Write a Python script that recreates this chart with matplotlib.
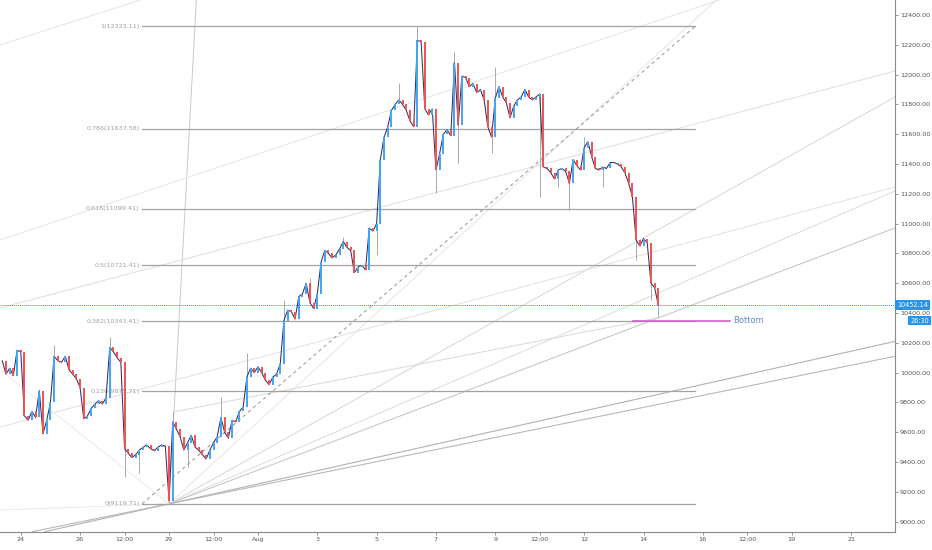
import numpy as np
import matplotlib.pyplot as plt

# x axis = days from Aug 1 00:00, candles every 3 hours (Jul 23 09:00 -> Aug 14 12:00)
closes = [
    10080, 9990, 10030, 9980, 10150,                                 # Jul 23
    10140, 9710, 9680, 9740, 9700, 9880, 9590, 9680,                 # Jul 24
    9800, 10110, 10080, 10070, 10110, 10020, 9990, 9960,             # Jul 25
    9900, 9690, 9710, 9760, 9790, 9810, 9790, 9830,                  # Jul 26
    10170, 10140, 10100, 10070, 9490, 9460, 9430, 9450,              # Jul 27
    9480, 9500, 9515, 9490, 9475, 9500, 9515, 9505,                  # Jul 28
    9140, 9670, 9620, 9570, 9480, 9530, 9580, 9500,                  # Jul 29
    9480, 9450, 9420, 9480, 9530, 9570, 9700, 9600,                  # Jul 30
    9560, 9680, 9670, 9740, 9770, 9970, 10030, 10000,                # Jul 31
    10040, 10000, 9950, 9920, 9970, 9990, 10060, 10350,              # Aug 1
    10420, 10410, 10360, 10510, 10530, 10600, 10470, 10430,          # Aug 2
    10530, 10740, 10820, 10800, 10770, 10790, 10830, 10880,          # Aug 3
    10840, 10820, 10670, 10710, 10720, 10690, 10970, 10950,          # Aug 4
    11000, 11430, 11580, 11650, 11760, 11800, 11830, 11800,          # Aug 5
    11760, 11690, 11650, 12230, 12220, 11770, 11730, 11770,          # Aug 6
    11360, 11470, 11600, 11630, 11590, 12080, 11660, 11990,          # Aug 7
    11980, 11920, 11940, 11880, 11900, 11830, 11650, 11580,          # Aug 8
    11840, 11920, 11850, 11810, 11710, 11790, 11830, 11850,          # Aug 9
    11900, 11850, 11830, 11850, 11870, 11380, 11370, 11340,          # Aug 10
    11300, 11360, 11370, 11350, 11270, 11430, 11390, 11360,          # Aug 11
    11510, 11550, 11450, 11370, 11360, 11380, 11370, 11410,          # Aug 12
    11410, 11400, 11380, 11340, 11270, 11180, 10890, 10850,          # Aug 13
    10900, 10870, 10600, 10570, 10452.14,                            # Aug 14
]
first_candle = -8.625
candle_step = 0.125

# visible wick extremes
spike_t = [-6.91, -4.99, -4.45, -4.01, -3.0, -2.87, -2.39, -1.28, -0.37, 0.91,
           1.69, 2.87, 3.98, 4.79, 5.43, 6.04, 6.64, 6.78, 7.86, 8.06,
           9.54, 10.08, 10.46, 11.06, 11.57, 12.78, 13.29, 13.46]
spike_p = [10186, 10240, 9300, 9330, 9119.71, 9736, 9367, 9837, 10132, 10488,
           10635, 10910, 10790, 11944, 12323, 11206, 12150, 11407, 11474, 12051,
           11179, 11246, 11092, 11581, 11246, 10756, 10488, 10374]

fib_ratios = ["1", "0.786", "0.618", "0.5", "0.382", "0.236", "0"]
fib_prices = [12323.11, 11637.58, 11099.41, 10721.41, 10343.41, 9875.71, 9119.71]
fib_start, fib_end = -3.91, 14.74

last_price = 10452.14
countdown = "26:30"
bottom_price = 10350
bottom_start, bottom_end = 12.65, 15.92

tick_days = [-8, -6, -4.5, -3, -1.5, 0, 2, 4, 6, 8, 9.5, 11, 13, 15, 16.5, 18, 20]
tick_labels = ["24", "26", "12:00", "29", "12:00", "Aug", "3", "5", "7", "9",
               "12:00", "12", "14", "16", "12:00", "19", "21"]

x_lo, x_hi = -8.70, 21.48
y_lo, y_hi = 8933, 12500.6

fig = plt.figure(figsize=(9.32, 5.5), dpi=100)
ax = fig.add_axes([0, 0.0333, 0.9603, 0.9667])
ax.set_xlim(x_lo, x_hi)
ax.set_ylim(y_lo, y_hi)

# drawings: fan lines out of the Jul 29 low, channels etc.
origin = (-3.0, 9119.71)
light = dict(lw=0.7, zorder=1)
for end, col in [((-2.024, 12702), '#cacaca'), ((16.26, 12648), '#e6e6e6'),
                 ((21.48, 11850), '#d6d6d6'), ((21.48, 11219), '#dcdcdc'),
                 ((21.48, 10971), '#c2c2c2')]:
    ax.plot([origin[0], end[0]], [origin[1], end[1]], color=col, **light)
ax.axline(origin, (21.48, 10210), color='#b2b2b2', lw=0.8, zorder=1)
ax.axline(origin, (21.48, 10110), color='#b8b8b8', lw=0.8, zorder=1)

for (a, b), col in [(((-8.70, 12199), (-2.39, 12601)), '#e4e4e4'),
                    (((-8.70, 10890), (17.07, 12601)), '#e4e4e4'),
                    (((-8.70, 10434), (21.48, 12024)), '#dedede'),
                    (((-8.70, 9635), (21.48, 11246)), '#e0e0e0'),
                    (((-2.867, 9736), (13.457, 10367)), '#d8d8d8'),
                    (((-8.70, 10018), origin), '#eaeaea'),
                    (((-8.70, 9078), origin), '#eaeaea')]:
    ax.plot([a[0], b[0]], [a[1], b[1]], color=col, **light)

# fib retracement
for r, p in zip(fib_ratios, fib_prices):
    ax.plot([fib_start, fib_end], [p, p], color='#a3a3a3', lw=0.9, zorder=2)
    ax.text(fib_start - 0.08, p, f"{r}({p:.2f})", ha='right', va='center',
            fontsize=4.6, color='#a0a0a0')
ax.plot([fib_start, fib_end], [fib_prices[-1], fib_prices[0]], color='#a0a0a0',
        lw=0.8, ls=(0, (3, 3)), zorder=2)

# candles
c = np.array(closes, dtype=float)
t = first_candle + candle_step * np.arange(len(c))
o = np.r_[c[0], c[:-1]]
up = c >= o
for st, sp in zip(spike_t, spike_p):
    i = int(np.argmin(np.abs(t - st)))
    ax.vlines(t[i], min(sp, c[i]), max(sp, c[i]), color='#a9a9a9', lw=0.7, zorder=3)
ax.plot(t, c, color='#3b2f5e', lw=0.75, zorder=4)
ax.vlines(t[up], o[up], c[up], color='#42a5f5', lw=1.4, zorder=5)
ax.vlines(t[~up], o[~up], c[~up], color='#ef5350', lw=1.4, zorder=5)

# current price + bottom marker
ax.axhline(last_price, color='#2196f3', lw=0.7, ls=(0, (1, 1)), zorder=6)
ax.plot([bottom_start, bottom_end], [bottom_price] * 2, color='#d45fd4', lw=1.2, zorder=6)
ax.text(bottom_end + 0.1, bottom_price, "Bottom", color='#5b8fd0', fontsize=6,
        ha='left', va='center')

# axes styling
for s in ['top', 'left']:
    ax.spines[s].set_visible(False)
for s in ['right', 'bottom']:
    ax.spines[s].set_color('#8a8a8a')
    ax.spines[s].set_linewidth(0.8)
ax.yaxis.tick_right()
ax.set_yticks(np.arange(9000, 12401, 200))
ax.set_yticklabels([f"{v:.2f}" for v in np.arange(9000, 12401, 200)])
ax.set_xticks(tick_days)
ax.set_xticklabels(tick_labels)
ax.tick_params(axis='both', labelsize=4.6, labelcolor='#50535e', color='#8a8a8a',
               length=2, width=0.6, pad=1.5)

yt = ax.get_yaxis_transform()
ax.text(1.002, last_price, f"{last_price:.2f}", transform=yt, ha='left', va='center',
        fontsize=4.7, color='white', clip_on=False, zorder=10,
        bbox=dict(boxstyle='square,pad=0.3', fc='#2196f3', ec='none'))
ax.text(1.038, 10350, countdown, transform=yt, ha='right', va='center',
        fontsize=4.7, color='white', clip_on=False, zorder=10,
        bbox=dict(boxstyle='square,pad=0.3', fc='#2196f3', ec='none'))

fig.savefig('out.png', dpi=100)
